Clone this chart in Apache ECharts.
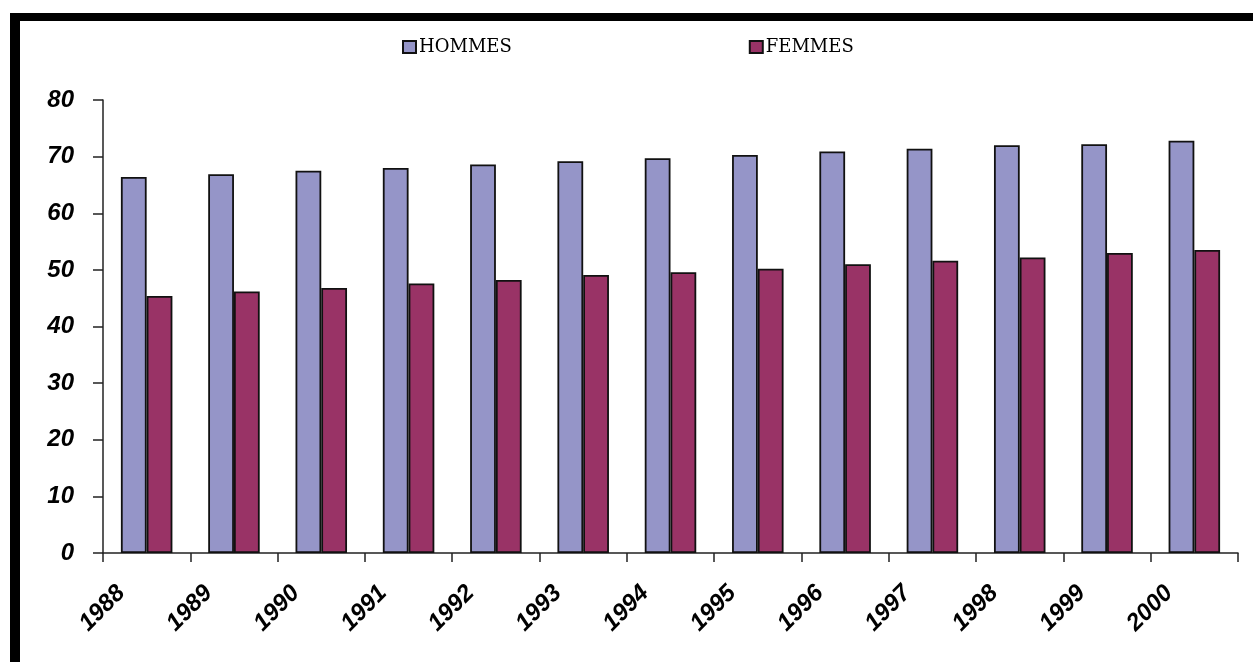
<!DOCTYPE html>
<html>
<head>
<meta charset="utf-8">
<script src="https://cdn.jsdelivr.net/npm/echarts@6/dist/echarts.min.js"></script>
<style>
html,body{margin:0;padding:0;background:#fff;}
#chart{width:1253px;height:662px;}
</style>
</head>
<body>
<div id="chart"></div>
<script>
var years = ['1988','1989','1990','1991','1992','1993','1994','1995','1996','1997','1998','1999','2000'];
var hommes = [66.4, 66.9, 67.5, 68.0, 68.6, 69.2, 69.7, 70.3, 70.9, 71.4, 72.0, 72.2, 72.8];
var femmes = [45.4, 46.2, 46.8, 47.6, 48.2, 49.1, 49.6, 50.2, 51.0, 51.6, 52.2, 53.0, 53.5];
var yTicks = { min: 0, max: 80, interval: 10 };

var chart = echarts.init(document.getElementById('chart'), null, { renderer: 'canvas' });
var labelFont = { fontFamily: 'Liberation Sans, Arial, sans-serif', fontWeight: 'bold', fontStyle: 'italic', fontSize: 24, color: '#000' };
var option = {
  animation: false,
  backgroundColor: '#fff',
  graphic: [
    { type: 'rect', shape: { x: 10, y: 13, width: 10, height: 660 }, style: { fill: '#000' }, z: 100 },
    { type: 'rect', shape: { x: 10, y: 13, width: 1260, height: 8 }, style: { fill: '#000' }, z: 100 }
  ],
  legend: {
    left: 397,
    top: 33,
    itemWidth: 13,
    itemHeight: 12,
    itemGap: 237,
    icon: 'rect',
    textStyle: { fontFamily: 'DejaVu Serif, serif', fontSize: 18, color: '#000', padding: [0, 0, 0, -2] },
    data: ['HOMMES', 'FEMMES']
  },
  grid: { left: 103, right: 15, top: 100, bottom: 109, containLabel: false },
  xAxis: {
    type: 'category',
    data: years,
    boundaryGap: true,
    axisLine: { lineStyle: { color: '#222', width: 1.5 } },
    axisTick: { show: true, length: 9, lineStyle: { color: '#222', width: 1.5 } },
    axisLabel: Object.assign({ interval: 0, rotate: 45, margin: 11, padding: [0, 36, 0, 0] }, labelFont),
    splitLine: { show: false }
  },
  yAxis: {
    type: 'value',
    min: yTicks.min,
    max: yTicks.max,
    interval: yTicks.interval,
    axisLine: { show: true, lineStyle: { color: '#222', width: 1.5 } },
    axisTick: { show: true, length: 10, lineStyle: { color: '#222', width: 1.5 } },
    axisLabel: Object.assign({ margin: 29 }, labelFont),
    splitLine: { show: false }
  },
  series: [
    {
      name: 'HOMMES', type: 'bar', data: hommes, barWidth: '29.5%', barGap: '0%',
      itemStyle: { color: '#9595C8', borderColor: '#111', borderWidth: 1.8 }
    },
    {
      name: 'FEMMES', type: 'bar', data: femmes, barWidth: '29.5%', barGap: '0%',
      itemStyle: { color: '#993366', borderColor: '#111', borderWidth: 1.8 }
    }
  ]
};
chart.setOption(option);
</script>
</body>
</html>
